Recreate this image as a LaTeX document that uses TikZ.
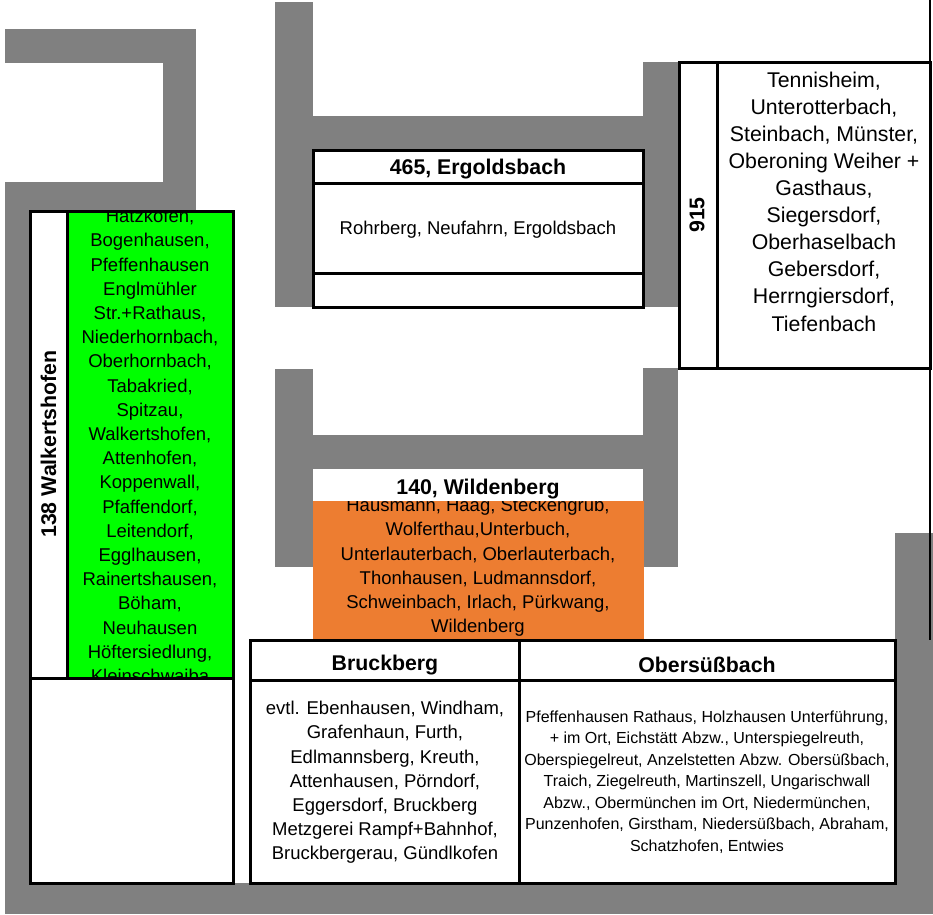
\documentclass[tikz,border=0pt]{standalone}
\usepackage{fontspec}
\setmainfont{Liberation Sans}
\definecolor{strasse}{HTML}{808080}
\definecolor{tourorange}{HTML}{ED7D31}
\definecolor{tourgruen}{HTML}{00FF00}
\tikzset{
  road/.style={fill=strasse},
  cell/.style={draw=black, line width=3pt},
  kopf/.style={font=\fontsize{21.3}{25}\selectfont\bfseries, inner sep=0pt},
  orte/.style={font=\fontsize{18.5}{24.2}\selectfont, align=center, inner sep=0pt},
}
\begin{document}
\begin{tikzpicture}[x=1pt,y=-1pt]
    \useasboundingbox (0,0) rectangle (933,914);

    % Strassen
    \begin{scope}
        \fill[road] (5,29) rectangle (196,63);
        \fill[road] (163,29) rectangle (196,211);
        \fill[road] (5,182) rectangle (196,211);
        \fill[road] (5,182) rectangle (30,914);
        \fill[road] (5,883) rectangle (933,914);
        \fill[road] (895,533) rectangle (933,914);
        \fill[road] (275,2) rectangle (313,307);
        \fill[road] (275,116) rectangle (678,150);
        \fill[road] (643,62) rectangle (678,307);
        \fill[road] (275,369) rectangle (313,567);
        \fill[road] (275,435) rectangle (678,469);
        \fill[road] (643,368) rectangle (678,567);
    \end{scope}

    % 465
    \fill[white] (313,150) rectangle (643,307);
    \draw[cell] (313,150) rectangle (643,307);
    \draw[cell] (313,183) -- (643,183);
    \draw[cell] (313,273) -- (643,273);
    \node[kopf] (kopf465) at (478,169) {465, Ergoldsbach};
    \node[orte] (orte465) at (478,230) {Rohrberg, Neufahrn, Ergoldsbach};

    % 915
    \coordinate (randoben) at (930,0);
    \coordinate (randunten) at (930,640);
    \draw[line width=2.5pt] (randoben) -- (randunten);
    \fill[white] (679,62) rectangle (930,368);
    \draw[cell] (679,62) rectangle (930,368);
    \draw[cell] (717,62) -- (717,368);
    \node[kopf, rotate=90] (kopf915) at (697,215) {915};
    \node[orte, font=\fontsize{21.3}{27.1}\selectfont] (orte915) at (824,201.5)
        {Tennisheim,\\Unterotterbach,\\Steinbach, Münster,\\Oberoning Weiher +\\Gasthaus,\\Siegersdorf,\\Oberhaselbach\\Gebersdorf,\\Herrngiersdorf,\\Tiefenbach};

    % 138
    \fill[white] (30,211) rectangle (233,883);
    \fill[tourgruen] (67,211) rectangle (233,678);
    \begin{scope}
        \clip (67,211) rectangle (233,678);
        \node[orte] (orte138) at (150,446)
            {Hatzkofen,\\Bogenhausen,\\Pfeffenhausen\\Englmühler\\Str.+Rathaus,\\Niederhornbach,\\Oberhornbach,\\Tabakried,\\Spitzau,\\Walkertshofen,\\Attenhofen,\\Koppenwall,\\Pfaffendorf,\\Leitendorf,\\Egglhausen,\\Rainertshausen,\\Böham,\\Neuhausen\\Höftersiedlung,\\Kleinschwaiba};
    \end{scope}
    \draw[cell] (30,211) rectangle (233,883);
    \draw[cell] (67,211) -- (67,678);
    \draw[cell] (30,678) -- (233,678);
    \node[kopf, rotate=90] (kopf138) at (48.5,444) {138 Walkertshofen};

    % 140
    \fill[white] (314,469) rectangle (643,501);
    \fill[tourorange] (313,501) rectangle (644,640);
    \begin{scope}
        \clip (313,501) rectangle (644,640);
        \node[orte] (orte140) at (478,567.5)
            {Hausmann, Haag, Steckengrub,\\Wolferthau,Unterbuch,\\Unterlauterbach, Oberlauterbach,\\Thonhausen, Ludmannsdorf,\\Schweinbach, Irlach, Pürkwang,\\Wildenberg};
    \end{scope}
    \node[kopf] (kopf140) at (478,489) {140, Wildenberg};

    % Bruckberg und Obersuessbach
    \fill[white] (250,640) rectangle (895,883);
    \draw[cell] (250,640) rectangle (895,883);
    \draw[cell] (519,640) -- (519,883);
    \draw[cell] (250,680) -- (895,680);
    \node[kopf] (kopfBruck) at (385,665) {Bruckberg};
    \node[kopf] (kopfObers) at (707,665) {Obersüßbach};
    \node[orte] (orteBruck) at (385,782.5)
        {evtl. Ebenhausen, Windham,\\Grafenhaun, Furth,\\Edlmannsberg, Kreuth,\\Attenhausen, Pörndorf,\\Eggersdorf, Bruckberg\\Metzgerei Rampf+Bahnhof,\\Bruckbergerau, Gündlkofen};
    \node[orte, font=\fontsize{16}{21.5}\selectfont] (orteObers) at (707,782)
        {Pfeffenhausen Rathaus, Holzhausen Unterführung,\\+ im Ort, Eichstätt Abzw., Unterspiegelreuth,\\Oberspiegelreut, Anzelstetten Abzw. Obersüßbach,\\Traich, Ziegelreuth, Martinszell, Ungarischwall\\Abzw., Obermünchen im Ort, Niedermünchen,\\Punzenhofen, Girstham, Niedersüßbach, Abraham,\\Schatzhofen, Entwies};
\end{tikzpicture}
\end{document}
